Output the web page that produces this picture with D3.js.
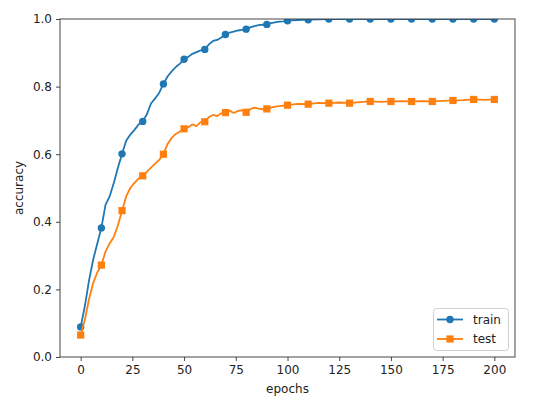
<!DOCTYPE html>
<html><head><meta charset="utf-8">
<script src="https://cdn.jsdelivr.net/npm/d3@7"></script>
<style>body{margin:0;background:#fff}svg{display:block;font-family:"DejaVu Sans",sans-serif}</style>
</head><body>
<svg id="c" width="554" height="401"></svg>
<script>
const epochs = [0,2,4,6,8,10,12,14,16,18,20,22,24,26,28,30,32,34,36,38,40,42,44,46,48,50,52,54,56,58,60,62,64,66,68,70,72,74,76,78,80,82,84,86,88,90,92,94,96,98,100,105,110,115,120,125,130,135,140,145,150,155,160,165,170,175,180,185,190,195,200];
const trainAcc = [0.089,0.15,0.225,0.287,0.335,0.382,0.450,0.475,0.515,0.560,0.601,0.640,0.658,0.672,0.688,0.697,0.718,0.750,0.765,0.782,0.808,0.830,0.845,0.858,0.868,0.881,0.888,0.897,0.902,0.907,0.910,0.925,0.935,0.938,0.945,0.954,0.960,0.963,0.966,0.968,0.970,0.975,0.979,0.982,0.983,0.984,0.988,0.990,0.992,0.993,0.995,0.997,0.998,0.999,1,1,1,1,1,1,1,1,1,1,1,1,1,1,1,1,1];
const testAcc = [0.065,0.11,0.17,0.218,0.25,0.272,0.312,0.336,0.355,0.390,0.433,0.475,0.500,0.515,0.528,0.536,0.548,0.560,0.572,0.583,0.600,0.630,0.648,0.660,0.667,0.675,0.680,0.688,0.683,0.695,0.696,0.710,0.716,0.713,0.721,0.723,0.729,0.722,0.728,0.730,0.724,0.733,0.738,0.735,0.733,0.734,0.738,0.741,0.742,0.744,0.745,0.749,0.748,0.752,0.751,0.753,0.751,0.754,0.756,0.755,0.756,0.757,0.756,0.757,0.756,0.758,0.759,0.760,0.762,0.761,0.762];
const xTicks = [0,25,50,75,100,125,150,175,200];
const yTicks = [0.0,0.2,0.4,0.6,0.8,1.0];
const seriesNames = ["train","test"];
const colors = ["#1f77b4","#ff7f0e"];

const L=60, R=515, T=19, B=357;
const svg = d3.select("#c");
const x = d3.scaleLinear().domain([-10,210]).range([L,R]);
const y = d3.scaleLinear().domain([0,1]).range([B,T]);

svg.append("defs").append("clipPath").attr("id","clip")
  .append("rect").attr("x",L).attr("y",T).attr("width",R-L).attr("height",B-T);

const series = [trainAcc,testAcc].map((vals,i)=>({name:seriesNames[i],color:colors[i],
  pts:epochs.map((e,j)=>({e,v:vals[j]}))}));

const line = d3.line().x(d=>x(d.e)).y(d=>y(d.v));
const g = svg.append("g").attr("clip-path","url(#clip)");
series.forEach((s,i)=>{
  g.append("path").attr("d",line(s.pts)).attr("fill","none").attr("stroke",s.color).attr("stroke-width",1.8).attr("stroke-linejoin","round");
  const mk = s.pts.filter(d=>d.e%10===0);
  if(i===0){
    g.selectAll(null).data(mk).enter().append("circle").attr("cx",d=>x(d.e)).attr("cy",d=>y(d.v)).attr("r",3.7).attr("fill",s.color);
  } else {
    g.selectAll(null).data(mk).enter().append("rect").attr("x",d=>x(d.e)-3.6).attr("y",d=>y(d.v)-3.6).attr("width",7.2).attr("height",7.2).attr("fill",s.color);
  }
});

// axes
const xa = svg.append("g").attr("transform",`translate(0,${B})`)
  .call(d3.axisBottom(x).tickValues(xTicks).tickSize(4).tickPadding(4).tickFormat(d3.format("d")));
const ya = svg.append("g").attr("transform",`translate(${L},0)`)
  .call(d3.axisLeft(y).tickValues(yTicks).tickSize(4).tickPadding(4).tickFormat(d3.format(".1f")));
[xa,ya].forEach(a=>{a.select(".domain").remove();a.selectAll("text").attr("font-size",12).attr("fill","#222").attr("font-family","DejaVu Sans");a.selectAll("line").attr("stroke","#333").attr("stroke-width",0.9);});
svg.append("rect").attr("x",L).attr("y",T).attr("width",R-L).attr("height",B-T).attr("fill","none").attr("stroke","#333").attr("stroke-width",0.9);

svg.append("text").attr("x",(L+R)/2).attr("y",393).attr("text-anchor","middle").attr("font-size",12).attr("fill","#222").text("epochs");
svg.append("text").attr("transform",`translate(23,${(T+B)/2}) rotate(-90)`).attr("text-anchor","middle").attr("font-size",12).attr("fill","#222").text("accuracy");

// legend
const lg = svg.append("g");
lg.append("rect").attr("x",433.5).attr("y",308.5).attr("width",75).attr("height",42).attr("rx",3).attr("fill","#fff").attr("fill-opacity",0.8).attr("stroke","#d0d0d0");
series.forEach((s,i)=>{
  const cy = 319.5 + i*19.5;
  lg.append("line").attr("x1",437).attr("x2",463).attr("y1",cy).attr("y2",cy).attr("stroke",s.color).attr("stroke-width",1.8);
  if(i===0) lg.append("circle").attr("cx",450).attr("cy",cy).attr("r",3.7).attr("fill",s.color);
  else lg.append("rect").attr("x",446.4).attr("y",cy-3.6).attr("width",7.2).attr("height",7.2).attr("fill",s.color);
  lg.append("text").attr("x",473).attr("y",cy).attr("dy","0.35em").attr("font-size",12).attr("fill","#222").text(s.name);
});
</script>
</body></html>
